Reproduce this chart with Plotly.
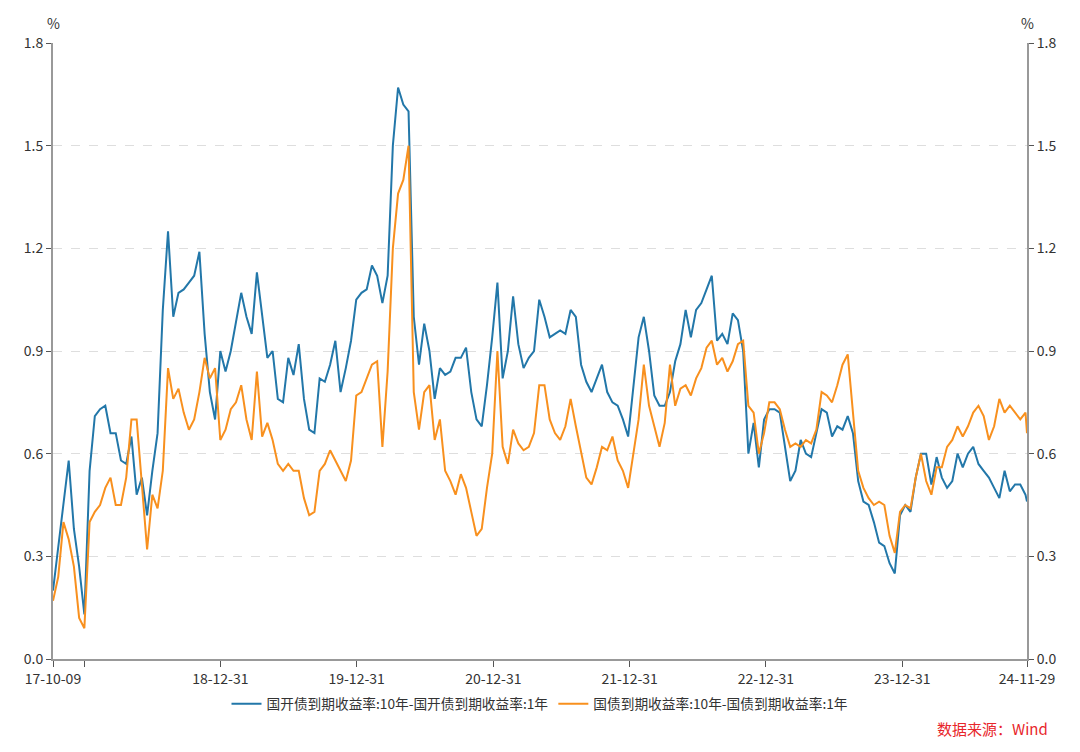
import pandas as pd
import plotly.graph_objects as go

start_date = "2017-10-09"
end_date = "2024-11-29"
step = "14D"
n_regular = 187

cdb_spread = [
    0.20, 0.33, 0.45, 0.58, 0.38, 0.27, 0.13, 0.55, 0.71, 0.73,
    0.74, 0.66, 0.66, 0.58, 0.57, 0.65, 0.48, 0.53, 0.42, 0.55,
    0.66, 1.02, 1.25, 1.00, 1.07, 1.08, 1.10, 1.12, 1.19, 0.95,
    0.78, 0.70, 0.90, 0.84, 0.90, 0.98, 1.07, 1.00, 0.95, 1.13,
    1.00, 0.88, 0.90, 0.76, 0.75, 0.88, 0.83, 0.92, 0.76, 0.67,
    0.66, 0.82, 0.81, 0.86, 0.93, 0.78, 0.85, 0.93, 1.05, 1.07,
    1.08, 1.15, 1.12, 1.04, 1.12, 1.50, 1.67, 1.62, 1.60, 1.00,
    0.86, 0.98, 0.90, 0.76, 0.85, 0.83, 0.84, 0.88, 0.88, 0.91,
    0.78, 0.70, 0.68, 0.80, 0.94, 1.10, 0.82, 0.90, 1.06, 0.92,
    0.85, 0.88, 0.90, 1.05, 1.00, 0.94, 0.95, 0.96, 0.95, 1.02,
    1.00, 0.86, 0.81, 0.78, 0.82, 0.86, 0.78, 0.75, 0.74, 0.70,
    0.65, 0.80, 0.94, 1.00, 0.90, 0.77, 0.74, 0.74, 0.78, 0.87,
    0.92, 1.02, 0.94, 1.02, 1.04, 1.08, 1.12, 0.93, 0.95, 0.92,
    1.01, 0.99, 0.90, 0.60, 0.69, 0.56, 0.70, 0.73, 0.73, 0.72,
    0.62, 0.52, 0.55, 0.64, 0.60, 0.59, 0.66, 0.73, 0.72, 0.65,
    0.68, 0.67, 0.71, 0.66, 0.52, 0.46, 0.45, 0.40, 0.34, 0.33,
    0.28, 0.25, 0.42, 0.45, 0.43, 0.53, 0.60, 0.60, 0.51, 0.59,
    0.53, 0.50, 0.52, 0.60, 0.56, 0.60, 0.62, 0.57, 0.55, 0.53,
    0.50, 0.47, 0.55, 0.49, 0.51, 0.51, 0.48, 0.46,
]

govt_spread = [
    0.17, 0.24, 0.40, 0.35, 0.27, 0.12, 0.09, 0.40, 0.43, 0.45,
    0.50, 0.53, 0.45, 0.45, 0.53, 0.70, 0.70, 0.52, 0.32, 0.48,
    0.44, 0.55, 0.85, 0.76, 0.79, 0.72, 0.67, 0.70, 0.78, 0.88,
    0.82, 0.85, 0.64, 0.67, 0.73, 0.75, 0.80, 0.70, 0.64, 0.84,
    0.65, 0.69, 0.64, 0.57, 0.55, 0.57, 0.55, 0.55, 0.47, 0.42,
    0.43, 0.55, 0.57, 0.61, 0.58, 0.55, 0.52, 0.58, 0.77, 0.78,
    0.82, 0.86, 0.87, 0.62, 0.84, 1.20, 1.36, 1.40, 1.50, 0.78,
    0.67, 0.78, 0.80, 0.64, 0.70, 0.55, 0.52, 0.48, 0.54, 0.50,
    0.43, 0.36, 0.38, 0.50, 0.60, 0.90, 0.62, 0.57, 0.67, 0.63,
    0.61, 0.62, 0.66, 0.80, 0.80, 0.70, 0.66, 0.64, 0.68, 0.76,
    0.68, 0.60, 0.53, 0.51, 0.56, 0.62, 0.61, 0.65, 0.58, 0.55,
    0.50, 0.60, 0.70, 0.86, 0.74, 0.68, 0.62, 0.69, 0.86, 0.74,
    0.79, 0.80, 0.77, 0.82, 0.85, 0.91, 0.93, 0.86, 0.88, 0.84,
    0.87, 0.92, 0.93, 0.74, 0.72, 0.60, 0.66, 0.75, 0.75, 0.73,
    0.67, 0.62, 0.63, 0.62, 0.64, 0.63, 0.67, 0.78, 0.77, 0.75,
    0.80, 0.86, 0.89, 0.72, 0.55, 0.50, 0.47, 0.45, 0.46, 0.45,
    0.36, 0.31, 0.43, 0.45, 0.44, 0.53, 0.60, 0.52, 0.48, 0.56,
    0.56, 0.62, 0.64, 0.68, 0.65, 0.68, 0.72, 0.74, 0.71, 0.64,
    0.68, 0.76, 0.72, 0.74, 0.72, 0.70, 0.72, 0.66,
]

tick_dates = ["2017-10-09", "2017-12-31", "2018-12-31", "2019-12-31", "2020-12-31",
              "2021-12-31", "2022-12-31", "2023-12-31", "2024-11-29"]
tick_labels = ["17-10-09", "", "18-12-31", "19-12-31", "20-12-31",
               "21-12-31", "22-12-31", "23-12-31", "24-11-29"]
y_ticks = [0.0, 0.3, 0.6, 0.9, 1.2, 1.5, 1.8]

series_names = ["国开债到期收益率:10年-国开债到期收益率:1年",
                "国债到期收益率:10年-国债到期收益率:1年"]
source_text = "数据来源：Wind"

dates = list(pd.date_range(start_date, periods=n_regular, freq=step)) + [pd.Timestamp(end_date)]

BLUE = "#2277a9"
ORANGE = "#f8901e"
FONT = "Noto Sans CJK SC"

fig = go.Figure()
fig.add_trace(go.Scatter(x=dates, y=cdb_spread, mode="lines", name=series_names[0],
                         line=dict(color=BLUE, width=2)))
fig.add_trace(go.Scatter(x=dates, y=govt_spread, mode="lines", name=series_names[1],
                         line=dict(color=ORANGE, width=2)))
# invisible trace for the right axis
fig.add_trace(go.Scatter(x=[dates[0]], y=[None], yaxis="y2", showlegend=False,
                         hoverinfo="skip", mode="lines"))

axis_common = dict(range=[0, 1.8], tickvals=y_ticks, tickformat=".1f",
                   ticks="outside", ticklen=5, tickcolor="#555",
                   showline=True, linecolor="#999", linewidth=2,
                   tickfont=dict(size=14, color="#333", family=FONT),
                   zeroline=False, fixedrange=True)

fig.update_layout(
    width=1080, height=752,
    margin=dict(l=45, r=61, t=35, b=101),
    paper_bgcolor="white", plot_bgcolor="white",
    font=dict(family=FONT, color="#333"),
    xaxis=dict(type="date", range=[start_date, end_date],
               tickvals=tick_dates, ticktext=tick_labels,
               ticks="outside", ticklen=6, tickcolor="#555",
               showline=True, linecolor="#999", linewidth=2,
               showgrid=False, zeroline=False,
               tickfont=dict(size=14, color="#333", family=FONT)),
    yaxis=dict(**axis_common, showgrid=True, gridcolor="#dedede", griddash="dash", gridwidth=1),
    yaxis2=dict(**axis_common, overlaying="y", side="right", showgrid=False),
    legend=dict(orientation="h", x=0.5, xanchor="center", y=-0.073, yanchor="middle",
                font=dict(size=13.7, color="#333", family=FONT), itemwidth=30,
                bgcolor="rgba(0,0,0,0)"),
    showlegend=True,
)

fig.add_annotation(text="%", xref="paper", yref="paper", x=0.0, y=1.032,
                   showarrow=False, xanchor="center", yanchor="middle",
                   font=dict(size=14, color="#333", family=FONT))
fig.add_annotation(text="%", xref="paper", yref="paper", x=1.0, y=1.032,
                   showarrow=False, xanchor="center", yanchor="middle",
                   font=dict(size=14, color="#333", family=FONT))
fig.add_annotation(text=source_text, xref="paper", yref="paper", x=1.0236, y=-0.1136,
                   showarrow=False, xanchor="right", yanchor="middle",
                   font=dict(size=15, color="#e8262b", family=FONT))

fig.write_html("out.html")
